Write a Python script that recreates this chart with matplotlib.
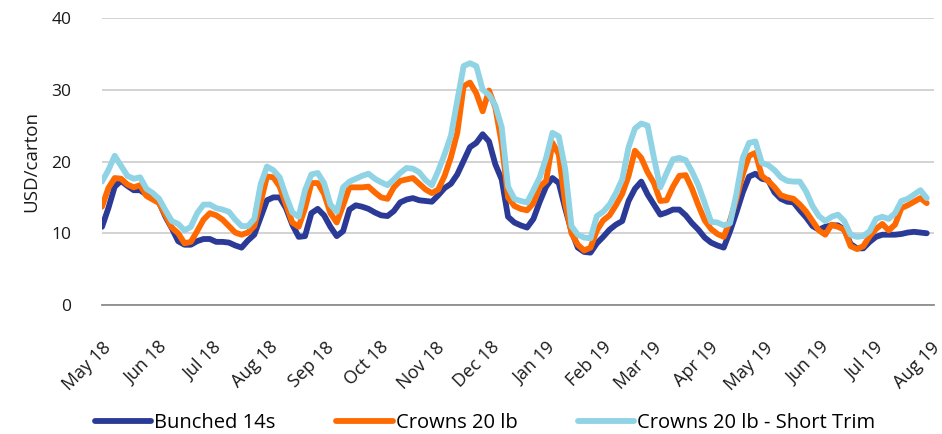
import pandas as pd
import matplotlib
matplotlib.use('Agg')
import matplotlib.pyplot as plt
import matplotlib.dates as mdates

plt.rcParams['font.family'] = ['Open Sans', 'DejaVu Sans']

# twice-weekly price series, USD per carton
dates = pd.date_range('2018-05-01', periods=131, freq='84h')

bunched_14s = [
    10.9, 13.5, 16.5, 17.3, 16.6, 16.0, 16.0, 15.4, 14.9, 14.3,
    12.3, 10.7, 8.9, 8.4, 8.4, 8.9, 9.2, 9.2, 8.8, 8.8,
    8.7, 8.3, 8.0, 9.0, 9.8, 12.2, 14.6, 15.0, 15.0, 13.5,
    11.2, 9.5, 9.6, 12.8, 13.4, 12.5, 10.9, 9.6, 10.3, 13.3,
    13.9, 13.7, 13.4, 12.9, 12.5, 12.4, 13.1, 14.3, 14.7, 14.9,
    14.6, 14.5, 14.4, 15.3, 16.3, 16.9, 18.2, 20.1, 22.0, 22.6,
    23.8, 22.8, 19.6, 17.5, 12.3, 11.5, 11.1, 10.8, 12.0, 14.4,
    16.5, 17.7, 17.0, 13.5, 10.3, 8.0, 7.4, 7.3, 8.6, 9.5,
    10.5, 11.2, 11.7, 14.5, 16.2, 17.2, 15.4, 14.0, 12.6, 12.9,
    13.3, 13.3, 12.5, 11.4, 10.5, 9.4, 8.7, 8.3, 8.0, 10.3,
    12.9, 15.7, 17.9, 18.3, 17.6, 17.4, 15.7, 14.8, 14.4, 14.3,
    13.2, 12.2, 11.0, 10.5, 10.9, 11.1, 11.1, 10.5, 8.5, 7.9,
    7.9, 8.8, 9.5, 9.8, 9.8, 9.8, 9.9, 10.1, 10.2, 10.1,
    10.0,
]

crowns_20lb = [
    13.7, 16.3, 17.7, 17.6, 16.8, 16.4, 16.7, 15.2, 14.7, 14.2,
    12.5, 10.8, 10.0, 8.6, 8.8, 10.3, 11.9, 12.8, 12.5, 11.9,
    11.0, 10.1, 9.8, 10.1, 11.0, 14.3, 17.9, 17.8, 16.5, 14.0,
    11.5, 10.9, 13.5, 17.0, 17.0, 15.5, 12.8, 11.5, 13.9, 16.4,
    16.4, 16.4, 16.5, 15.7, 15.0, 14.8, 16.4, 17.3, 17.5, 17.7,
    16.9, 16.1, 15.6, 16.1, 18.0, 20.6, 24.0, 30.5, 31.0, 29.5,
    27.0, 29.9, 27.5, 22.5, 15.0, 13.8, 13.4, 13.2, 14.2, 16.5,
    17.3, 22.6, 21.0, 14.2, 10.0, 8.4, 7.6, 8.0, 10.4, 11.8,
    12.5, 13.9, 15.5, 18.0, 21.5, 20.5, 18.5, 17.0, 14.5, 14.6,
    16.5, 18.0, 18.1, 16.2, 13.9, 11.8, 10.6, 9.9, 9.5, 11.8,
    14.8, 18.2, 20.8, 21.2, 18.0, 17.3, 16.4, 15.3, 15.0, 14.8,
    14.0, 13.0, 11.7, 10.4, 9.8, 11.2, 10.9, 10.5, 8.2, 7.8,
    8.2, 9.6, 10.6, 11.3, 10.4, 11.2, 13.5, 13.9, 14.4, 14.9,
    14.2,
]

crowns_short_trim = [
    17.2, 18.8, 20.8, 19.4, 18.0, 17.6, 17.8, 16.2, 15.6, 14.8,
    13.2, 11.7, 11.3, 10.4, 10.9, 12.8, 14.0, 14.0, 13.5, 13.3,
    13.0, 11.9, 11.0, 11.0, 12.0, 16.8, 19.3, 18.8, 17.8, 15.2,
    12.9, 12.3, 16.0, 18.2, 18.4, 17.0, 14.0, 13.0, 16.4, 17.2,
    17.6, 18.0, 18.3, 17.6, 17.1, 16.7, 17.5, 18.4, 19.1, 19.0,
    18.5, 17.4, 16.7, 18.7, 21.0, 23.6, 28.5, 33.3, 33.7, 33.3,
    30.0, 29.3, 27.8, 24.8, 16.5, 14.8, 14.5, 14.3, 16.0, 17.8,
    20.5, 24.0, 23.5, 19.0, 11.0, 9.8, 9.4, 9.3, 12.4, 13.0,
    14.0, 15.6, 17.5, 22.0, 24.6, 25.3, 25.0, 20.5, 16.4, 18.4,
    20.3, 20.5, 20.2, 18.6, 16.7, 14.2, 11.6, 11.5, 11.1, 11.4,
    15.5, 20.5, 22.6, 22.8, 19.8, 19.5, 18.8, 17.8, 17.3, 17.2,
    17.2, 15.8, 13.8, 12.4, 11.7, 12.3, 12.6, 11.7, 9.8, 9.5,
    9.6, 10.3, 12.0, 12.3, 12.0, 12.8, 14.5, 14.8, 15.4, 16.0,
    14.9,
]

series_names = ['Bunched 14s', 'Crowns 20 lb', 'Crowns 20 lb - Short Trim']
series_colors = ['#2B3A96', '#FF6A00', '#8FD3E4']

fig = plt.figure(figsize=(9.42, 4.34), dpi=100)
ax = fig.add_axes([0.1083, 0.2972, 0.8832, 0.6613])

for vals, name, col in zip([bunched_14s, crowns_20lb, crowns_short_trim], series_names, series_colors):
    ax.plot(dates, vals, color=col, lw=4.2, label=name,
            solid_joinstyle='round', solid_capstyle='round')

ax.set_ylim(0, 40)
ax.set_yticks([0, 10, 20, 30, 40])
ax.set_xlim(pd.Timestamp('2018-05-01'), pd.Timestamp('2019-08-03'))
ax.xaxis.set_major_locator(mdates.MonthLocator())
ax.xaxis.set_major_formatter(mdates.DateFormatter('%b %y'))

ax.grid(axis='y', color='#D0D0D0', lw=1.3)
ax.set_axisbelow(True)
for s in ['top', 'right', 'left']:
    ax.spines[s].set_visible(False)
ax.spines['bottom'].set_color('#8C8C8C')
ax.spines['bottom'].set_linewidth(1.3)

ax.tick_params(axis='both', length=0, colors='#1A1A1A')
ax.tick_params(axis='y', pad=22, labelsize=12.5)
ax.tick_params(axis='x', pad=24, labelsize=13)
plt.setp(ax.get_xticklabels(), rotation=45, ha='right', rotation_mode='anchor')
ax.set_ylabel('USD/carton', fontsize=13.5, color='#1A1A1A', labelpad=8)

fig.legend(*ax.get_legend_handles_labels(), loc='center', bbox_to_anchor=(0.515, 0.025),
           ncol=3, frameon=False, fontsize=14.5, handlelength=2.8,
           handletextpad=0.15, columnspacing=3.0, borderaxespad=0)

fig.savefig('out.png', dpi=100)
